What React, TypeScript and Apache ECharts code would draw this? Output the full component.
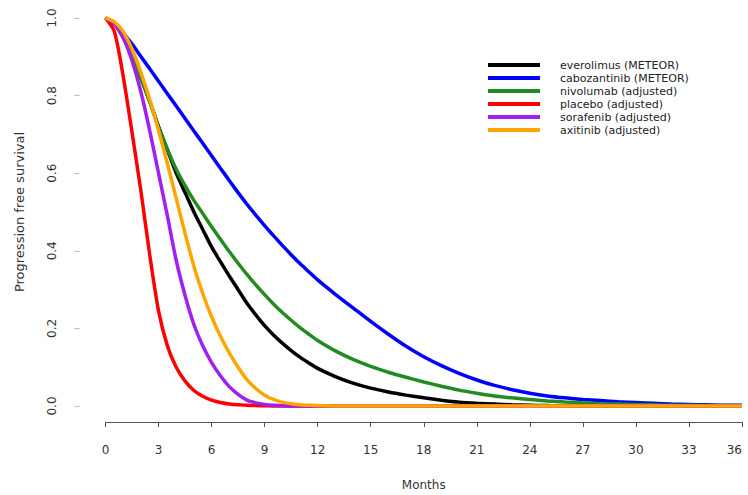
import React, { useEffect, useRef } from "react";
import * as echarts from "echarts";

const months = [
  0, 0.5, 1, 1.5, 2, 2.5, 3, 3.5, 4, 4.5, 5, 5.5, 6, 6.5, 7, 7.5, 8, 8.5, 9, 9.5, 10, 10.5, 11, 11.5, 12,
  13, 14, 15, 16, 17, 18, 19, 20, 21, 22, 23, 24, 25, 26, 27, 28, 29, 30, 31, 32, 33, 34, 35, 36,
];

const seriesNames = [
  "everolimus (METEOR)",
  "cabozantinib (METEOR)",
  "nivolumab (adjusted)",
  "placebo (adjusted)",
  "sorafenib (adjusted)",
  "axitinib (adjusted)",
];

const seriesColors = ["#000000", "#0000FF", "#228B22", "#FF0000", "#A020F0", "#FFA500"];

const everolimus = [
  1, 0.985, 0.95, 0.9, 0.845, 0.785, 0.72, 0.66, 0.6, 0.55, 0.5, 0.455, 0.41, 0.372, 0.335, 0.3, 0.265, 0.235, 0.207, 0.183, 0.162, 0.143, 0.126, 0.111, 0.097,
  0.076, 0.059, 0.046, 0.036, 0.028, 0.021, 0.015, 0.01, 0.007, 0.005, 0.003, 0.002, 0.001, 0, 0, 0, 0, 0, 0, 0, 0, 0, 0, 0,
];

const cabozantinib = [
  1, 0.988, 0.962, 0.933, 0.901, 0.869, 0.837, 0.805, 0.773, 0.741, 0.709, 0.677, 0.645, 0.613, 0.581, 0.55, 0.52, 0.492, 0.465, 0.439, 0.414, 0.39, 0.367, 0.346, 0.325,
  0.288, 0.253, 0.218, 0.185, 0.154, 0.127, 0.104, 0.084, 0.067, 0.053, 0.042, 0.033, 0.026, 0.021, 0.017, 0.014, 0.011, 0.009, 0.007, 0.005, 0.004, 0.003, 0.002, 0.002,
];

const nivolumab = [
  1, 0.985, 0.95, 0.9, 0.845, 0.785, 0.718, 0.662, 0.61, 0.568, 0.53, 0.496, 0.462, 0.43, 0.398, 0.368, 0.339, 0.312, 0.287, 0.263, 0.241, 0.221, 0.202, 0.185, 0.169,
  0.142, 0.12, 0.102, 0.087, 0.074, 0.062, 0.051, 0.041, 0.033, 0.026, 0.021, 0.017, 0.013, 0.01, 0.008, 0.006, 0.005, 0.004, 0.003, 0.002, 0.002, 0.001, 0.001, 0.001,
];

const placebo = [
  1, 0.965, 0.85, 0.705, 0.555, 0.39, 0.245, 0.155, 0.1, 0.064, 0.04, 0.025, 0.015, 0.009, 0.005, 0.003, 0.002, 0.001, 0.0005, 0, 0, 0, 0, 0, 0,
  0, 0, 0, 0, 0, 0, 0, 0, 0, 0, 0, 0, 0, 0, 0, 0, 0, 0, 0, 0, 0, 0, 0, 0,
];

const sorafenib = [
  1, 0.985, 0.95, 0.89, 0.81, 0.71, 0.6, 0.49, 0.375, 0.285, 0.21, 0.155, 0.112, 0.078, 0.05, 0.03, 0.015, 0.008, 0.004, 0.002, 0.001, 0, 0, 0, 0,
  0, 0, 0, 0, 0, 0, 0, 0, 0, 0, 0, 0, 0, 0, 0, 0, 0, 0, 0, 0, 0, 0, 0, 0,
];

const axitinib = [
  1, 0.99, 0.965, 0.92, 0.86, 0.79, 0.71, 0.625, 0.535, 0.445, 0.36, 0.29, 0.23, 0.18, 0.137, 0.1, 0.068, 0.045, 0.028, 0.017, 0.01, 0.006, 0.003, 0.002, 0.001,
  0, 0, 0, 0, 0, 0, 0, 0, 0, 0, 0, 0, 0, 0, 0, 0, 0, 0, 0, 0, 0, 0, 0, 0,
];

const seriesValues = [everolimus, cabozantinib, nivolumab, placebo, sorafenib, axitinib];

const FONT = "DejaVu Sans";

export default function App() {
  const ref = useRef<HTMLDivElement>(null);

  useEffect(() => {
    if (!ref.current) return;
    const chart = echarts.init(ref.current, undefined, { renderer: "svg" });
    const option = {
      animation: false,
      backgroundColor: "#ffffff",
      grid: [
        { left: 105.5, right: 6, top: 18, bottom: 89, containLabel: false, outerBoundsMode: "none" },
        { left: 79.5, width: 1, top: 18, bottom: 89, containLabel: false, outerBoundsMode: "none" },
      ],
      legend: {
        orient: "vertical",
        left: 488,
        top: 58.5,
        itemWidth: 52,
        itemHeight: 4,
        itemGap: 0,
        icon: "rect",
        padding: 0,
        textStyle: { fontFamily: FONT, fontSize: 11, color: "#222", lineHeight: 13, padding: [0, 0, 0, 15] },
        data: seriesNames,
      },
      xAxis: [
        {
          gridIndex: 0,
          type: "value",
          min: 0,
          max: 36,
          interval: 3,
          offset: 16,
          name: "Months",
          nameLocation: "middle",
          nameGap: 57,
          nameTextStyle: { fontFamily: FONT, fontSize: 12, color: "#333" },
          axisLine: { show: true, onZero: false, lineStyle: { color: "#555", width: 1 } },
          axisTick: { show: true, length: 5, lineStyle: { color: "#555" } },
          axisLabel: {
            margin: 22,
            fontFamily: FONT,
            fontSize: 12,
            color: "#333",
            showMinLabel: true,
            showMaxLabel: true,
            alignMaxLabel: "right",
          },
          splitLine: { show: false },
        },
        {
          gridIndex: 1,
          type: "value",
          min: 0,
          max: 1,
          show: false,
        },
      ],
      yAxis: [
        {
          gridIndex: 0,
          type: "value",
          min: 0,
          max: 1,
          interval: 0.2,
          show: false,
        },
        {
          gridIndex: 1,
          type: "value",
          min: 0,
          max: 1,
          interval: 0.2,
          name: "Progression free survival",
          nameLocation: "middle",
          nameGap: 54,
          nameTextStyle: { fontFamily: FONT, fontSize: 13, color: "#333" },
          axisLine: { show: false, onZero: false },
          axisTick: { show: true, length: 5, lineStyle: { color: "#bbb" } },
          axisLabel: {
            rotate: 90,
            margin: 22,
            fontFamily: FONT,
            fontSize: 12,
            color: "#333",
            formatter: (v: number) => v.toFixed(1),
          },
          splitLine: { show: false },
        },
      ],
      series: seriesNames.map((name, i) => ({
        name,
        type: "line",
        xAxisIndex: 0,
        yAxisIndex: 0,
        data: months.map((m, j) => [m, seriesValues[i][j]]),
        showSymbol: false,
        smooth: 0.25,
        clip: false,
        lineStyle: { color: seriesColors[i], width: 3.5 },
        itemStyle: { color: seriesColors[i] },
      })),
    };
    chart.setOption(option as any);
    return () => chart.dispose();
  }, []);

  return (
    <div
      ref={ref}
      style={{ position: "absolute", left: 0, top: 0, width: 748, height: 495, background: "#fff" }}
    />
  );
}
